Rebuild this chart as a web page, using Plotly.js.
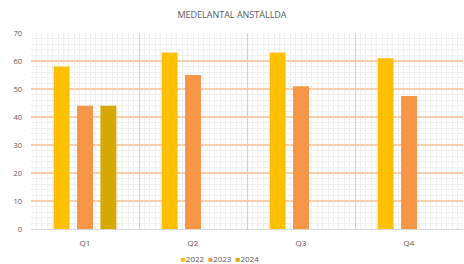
<!DOCTYPE html>
<html><head><meta charset="utf-8">
<script src="https://cdn.plot.ly/plotly-3.0.1.min.js"></script>
<style>html,body{margin:0;padding:0;background:#fff}#c{width:464px;height:264px}</style>
</head><body><div id="c"></div>
<script>
const categories = ["Q1","Q2","Q3","Q4"];
const years = ["2022","2023","2024"];
const v2022 = [58,63,63,61];
const v2023 = [44,55,51,47.5];
const v2024 = [44,null,null,null];
const colors = ["#FFC000","#F79646","#D6A800"];
const series = [v2022,v2023,v2024];
const traces = [];
// base subplot carrying the fine vertical minor grid
traces.push({type:"scatter",mode:"markers",x:[0],y:[0],xaxis:"x",yaxis:"y",
  marker:{opacity:0},showlegend:false,hoverinfo:"skip"});
series.forEach((s,i)=>traces.push({
  type:"bar", name:years[i], x:categories, y:s, xaxis:"x2", yaxis:"y",
  marker:{color:colors[i]}, hoverinfo:"skip"
}));
const minorX = [];
for (let k = 1; k < 80; k++) if (k % 20 !== 0) minorX.push(k / 20);
const H = 264, T = 33, B = 0, plotBottomPx = 229, legendPx = 258;
const plotH = H - T - B;
const d0 = (H - B - plotBottomPx) / plotH;
const legendText = years.map((yr,i)=>'<span style="color:'+colors[i]+'">■</span>'+yr).join('&nbsp;&nbsp;');
const layout = {
  width:464, height:H,
  margin:{l:31,r:1,t:T,b:B},
  paper_bgcolor:"#fff", plot_bgcolor:"#fff",
  font:{family:"Open Sans, Liberation Sans, sans-serif", color:"#595959", size:8},
  title:{text:"MEDELANTAL ANSTÄLLDA", x:0.5, xanchor:"center", y:0.945, yanchor:"middle",
    font:{size:9, color:"#595959"}},
  barmode:"group", bargap:0.35, bargroupgap:0.32,
  showlegend:false,
  annotations:[{text:legendText, xref:"paper", yref:"paper", x:(220-31)/432, xanchor:"center",
    y:(H - B - legendPx)/plotH, yanchor:"middle", showarrow:false, font:{size:8,color:"#595959"}}],
  xaxis:{range:[0,4], tickmode:"array", tickvals:minorX, showgrid:true, gridcolor:"#f0f0f0", gridwidth:1,
    showticklabels:false, ticks:"", zeroline:false, showline:false, anchor:"y"},
  yaxis:{domain:[d0,1], range:[0,70], dtick:10, showgrid:true, gridcolor:"#F9CFAF", gridwidth:2,
    minor:{dtick:2, showgrid:true, gridcolor:"#f0f0f0", gridwidth:1},
    zeroline:false, showline:false, ticks:"", tickfont:{size:7.5,color:"#595959"}, ticklabelstandoff:8},
  xaxis2:{type:"category", overlaying:"x", anchor:"y", side:"bottom", tickson:"boundaries", showgrid:true, gridcolor:"#d0d0d0", gridwidth:1,
    ticks:"", showline:true, linecolor:"#d9d9d9", tickfont:{size:8,color:"#595959"},
    ticklabelstandoff:6, zeroline:false}
};
Plotly.newPlot("c", traces, layout, {staticPlot:true, displayModeBar:false});
</script></body></html>
